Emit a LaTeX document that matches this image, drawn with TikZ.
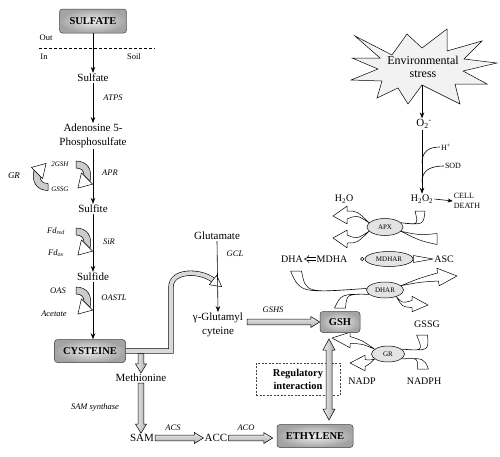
\documentclass[tikz,border=0pt]{standalone}
\usepackage{fontspec}
\setmainfont{Liberation Serif}
\usetikzlibrary{arrows.meta,shapes.geometric,calc}
\pgfdeclarelayer{back}
\pgfsetlayers{back,main}

% tapered band ending in an open arrow head
\newcommand\bandA[5]{\draw[band] (#1) .. controls ($(#2)+0.5*(#4)$) .. ($(#3)+(#4)$) -- ($(#3)+2.2*(#4)$) -- ($(#3)+(#5)$) -- ($(#3)-2.2*(#4)$) -- ($(#3)-(#4)$) .. controls ($(#2)-0.5*(#4)$) .. (#1) -- cycle;}
% tapered band with a flat end
\newcommand\bandF[4]{\draw[band] (#1) .. controls ($(#2)+0.5*(#4)$) .. ($(#3)+(#4)$) -- ($(#3)-(#4)$) .. controls ($(#2)-0.5*(#4)$) .. (#1) -- cycle;}
% thick grey arrows
\newcommand\harr[2]{\draw[garr] let \p1=#1, \p2=#2 in (\x1,\y1+2.8pt) -- (\x2-9pt,\y1+2.8pt) -- (\x2-9pt,\y1+5.5pt) -- (\x2,\y1) -- (\x2-9pt,\y1-5.5pt) -- (\x2-9pt,\y1-2.8pt) -- (\x1,\y1-2.8pt) -- cycle;}
\newcommand\varr[2]{\draw[gvarr] let \p1=#1, \p2=#2 in (\x1-2.8pt,\y1) -- (\x1-2.8pt,\y2+9pt) -- (\x1-5.5pt,\y2+9pt) -- (\x1,\y2) -- (\x1+5.5pt,\y2+9pt) -- (\x1+2.8pt,\y2+9pt) -- (\x1+2.8pt,\y1) -- cycle;}
\newcommand\dvarr[2]{\draw[gvarr] let \p1=#1, \p2=#2 in (\x1,\y1) -- (\x1+6pt,\y1-11pt) -- (\x1+3pt,\y1-11pt) -- (\x1+3pt,\y2+11pt) -- (\x1+6pt,\y2+11pt) -- (\x1,\y2) -- (\x1-6pt,\y2+11pt) -- (\x1-3pt,\y2+11pt) -- (\x1-3pt,\y1-11pt) -- (\x1-6pt,\y1-11pt) -- cycle;}
% grey cofactor crescent
\newcommand\cofac[2]{\begin{scope}[shift={#1}, rotate=#2]
\draw[line width=0.5pt, fill=gray!40, line join=round] (0,-3.5) .. controls (11,-3.5) and (17,5) .. (14,17) -- (8,11) .. controls (8,6) and (5,3.5) .. (0,3.5) -- cycle;
\draw[line width=0.5pt, fill=white, line join=round] (5.4,8.4) -- (16.6,19.6) -- (1.9,23.6) -- cycle;
\end{scope}}

\begin{document}
\begin{tikzpicture}[x=1pt,y=-1pt,
  txt/.style={inner sep=1pt, font=\fontsize{11}{13.5}\selectfont},
  stxt/.style={inner sep=1pt, font=\fontsize{10}{12}\selectfont},
  smtxt/.style={inner sep=1pt, font=\fontsize{8}{9}\selectfont},
  enz/.style={inner sep=1pt, font=\fontsize{8.5}{10}\selectfont\itshape},
  cof/.style={inner sep=1pt, font=\fontsize{7}{8}\selectfont\itshape},
  gbox/.style={draw=gray!50!black, line width=0.5pt, rounded corners=3pt, inner color=gray!12, outer color=gray!72, font=\fontsize{10.5}{12}\selectfont\bfseries, inner sep=0pt},
  enzell/.style={ellipse, draw, line width=0.5pt, fill=gray!22, inner sep=0pt, font=\fontsize{7}{8}\selectfont},
  arr/.style={-{Stealth[length=6pt,width=4.5pt]}, line width=0.6pt},
  band/.style={draw, fill=white, line width=0.5pt, line join=round},
  garr/.style={draw, line width=0.5pt, top color=gray!15, bottom color=gray!65},
  gvarr/.style={draw, line width=0.5pt, left color=gray!15, right color=gray!65},
]
\useasboundingbox (0,0) rectangle (500,456);

% ---------------- left column: sulfate assimilation
\node[gbox, minimum width=67pt, minimum height=24pt] (sulfbox) at (93,21) {SULFATE};
\node[smtxt, font=\fontsize{8.5}{10}\selectfont] (out) at (46,38) {Out};
\node[smtxt, font=\fontsize{8.5}{10}\selectfont] (in) at (44,57) {In};
\node[smtxt, font=\fontsize{8.5}{10}\selectfont] (soil) at (134,57) {Soil};
\coordinate (dl1) at (39,48);
\coordinate (dl2) at (155,48);
\draw[line width=0.5pt, dash pattern=on 3pt off 2pt] (dl1) -- (dl2);

\node[txt] (sulf) at (93,78) {Sulfate};
\node[txt, align=center] (aps) at (93,136) {Adenosine 5-\\Phosphosulfate};
\node[txt] (sulfite) at (93,209) {Sulfite};
\node[txt] (sulfide) at (93,277) {Sulfide};
\node[gbox, minimum width=71pt, minimum height=23pt] (cys) at (90,351) {CYSTEINE};

\draw[arr] (sulfbox.south) -- (sulf.north);
\draw[arr] (sulf.south) -- (aps.north);
\draw[arr] (aps.south) -- (sulfite.north);
\draw[arr] (sulfite.south) -- (sulfide.north);
\draw[arr] (sulfide.south) -- (sulfide.south |- cys.north);

\node[enz] (atps) at (113,98) {ATPS};
\node[enz] (apr) at (110,173) {APR};
\node[enz] (sir) at (109,242) {SiR};
\node[enz] (oastl) at (114,298) {OASTL};

\cofac{(76,164.5)}{0}
\cofac{(76,231.5)}{0}
\cofac{(76,290.5)}{0}
\cofac{(48,187)}{180}

\node[enz, font=\fontsize{9}{10}\selectfont\itshape] (grl) at (14,176) {GR};
\node[cof] (gsh2) at (60,164) {2GSH};
\node[cof] (gssgl) at (60,189) {GSSG};
\node[enz] (fdred) at (56,231) {Fd\textsubscript{red}};
\node[enz] (fdox) at (56,253) {Fd\textsubscript{ox}};
\node[enz] (oas) at (58,291) {OAS};
\node[enz] (acet) at (54,314) {Acetate};

% ---------------- methionine / ethylene branch
\node[txt] (meth) at (141,378) {Methionine};
\node[txt] (sam) at (142,438) {SAM};
\node[txt] (acc) at (216,438) {ACC};
\node[gbox, minimum width=76pt, minimum height=23pt] (eth) at (315,436) {ETHYLENE};
\node[enz] (samsyn) at (95,407) {SAM synthase};
\node[enz] (acs) at (173,428) {ACS};
\node[enz] (aco) at (246,428) {ACO};

\coordinate (pc1) at (171,351);
\coordinate (pc2) at (171,287);
\coordinate (pc3) at (213,280);
\draw[double=gray!30, double distance=4pt, line width=0.6pt] (cys.east) -- (pc1) -- (pc2) .. controls (171,270) and (200,270) .. (pc3);
\draw[line width=0.5pt, fill=white, line join=round] (209.3,284.7) -- (221.7,286.7) -- (216.7,275.3) -- cycle;

\coordinate (pj) at (141,353.6);
\varr{(pj)}{(meth.north)}
\varr{(meth.south)}{(meth.south |- sam.north)}
\harr{(sam.east)}{(acc.west)}
\harr{(acc.east)}{($(eth.west)+(-4,0)$)}

% ---------------- glutathione synthesis
\node[txt] (glu) at (217,236) {Glutamate};
\node[txt, align=center] (gglu) at (218,325) {γ-Glutamyl\\cyteine};
\node[enz] (gcl) at (235,254) {GCL};
\node[enz] (gshs) at (273,310) {GSHS};
\draw[arr] (glu.south) -- (gglu.north);
\node[gbox, minimum width=40pt, minimum height=21pt] (gsh) at (340,322) {GSH};
\harr{($(gglu.east |- gsh.west)+(3,0)$)}{(gsh.west)}

\node[draw=gray!50!black, line width=0.4pt, dash pattern=on 2pt off 1.5pt, minimum width=84pt, minimum height=32pt, align=center, font=\fontsize{10.5}{13}\selectfont\bfseries] (reg) at (298,379) {Regulatory\\interaction};
\coordinate (dt) at (329,339);
\coordinate (db) at (329,420);
\dvarr{(dt)}{(db)}

% ---------------- environmental stress / ROS
\draw[line width=0.5pt, fill=gray!10, line join=miter] (355,36) -- (392,55) -- (407,34) -- (422,48) -- (447,29) -- (447,51) -- (482,41) -- (464,59) -- (497,63) -- (463,71) -- (487,84) -- (455,84) -- (460,104) -- (422,85) -- (408,104) -- (398,88) -- (377,98) -- (382,81) -- (351,80) -- (378,69) -- (352,58) -- (380,58) -- cycle;
\node[align=center, inner sep=1pt, font=\fontsize{12}{12.5}\selectfont] (stress) at (423,67) {Environmental\\stress};
\coordinate (starbot) at (422,85);
\node[txt] (o2) at (424,124) {O\textsubscript{2}\textsuperscript{-}};
\draw[arr] (starbot) -- (starbot |- o2.north);
\node[stxt] (h2o) at (344,199) {H\textsubscript{2}O};
\node[stxt] (h2o2) at (422,199) {H\textsubscript{2}O\textsubscript{2}};
\node[smtxt] (hplus) at (446,147) {H\textsuperscript{+}};
\node[smtxt] (sod) at (453,166) {SOD};
\node[smtxt, align=left, font=\fontsize{8}{9.5}\selectfont] (cd) at (467,201) {CELL\\DEATH};
\draw[arr] (starbot |- o2.south) -- (h2o2.north);
\coordinate (b1) at (422,163);
\coordinate (b2) at (422,182);
\draw[line width=0.6pt] (b1) .. controls (422,152) and (428,147) .. (hplus.west);
\draw[line width=0.6pt] (b2) .. controls (422,172) and (428,166) .. (sod.west);
\draw[-{Stealth[length=5pt,width=4pt]}, line width=0.6pt] (h2o2.east) -- (cd.west);

\node[enzell, minimum width=36pt, minimum height=17pt] (apx) at (385,227) {APX};
\node[enzell, minimum width=48pt, minimum height=15pt] (mdhar) at (389,259) {MDHAR};
\node[enzell, minimum width=37pt, minimum height=16pt] (dhar) at (385,290) {DHAR};
\node[enzell, minimum width=33pt, minimum height=16pt] (gr) at (388,354) {GR};

\node[stxt] (dha) at (292,259) {DHA};
\node[stxt] (mdha) at (332,259) {MDHA};
\node[stxt] (asc) at (444,259) {ASC};
\node[stxt] (gssg) at (427,324) {GSSG};
\node[stxt] (nadp) at (362,381) {NADP};
\node[stxt] (nadph) at (424,381) {NADPH};

\draw[double, double distance=2.2pt, line width=0.5pt, -{Implies}] (mdha.west) -- (dha.east);
\draw[line width=0.5pt, fill=white] ($(mdhar.west)+(-2.5,0)$) circle[radius=1.8pt];
\draw[band] ($(mdhar.east)+(0,-3.5)$) -- (asc.west) -- ($(mdhar.east)+(0,3.5)$) -- cycle;

\begin{pgfonlayer}{back}
% APX
\bandA{apx.165}{357,213}{347,215}{0,4}{-14,1}
\bandA{apx.195}{357,241}{347,239}{0,4}{-14,-1}
\bandF{apx.15}{421,225}{420,211}{5,0}
\bandF{apx.345}{420,238}{437,239}{0,5.5}
% DHAR
\bandF{dhar.175}{303,293}{296,271}{5.5,0}
\bandA{dhar.15}{420,280}{438,277}{0.5,4}{19,-1}
\bandF{dhar.195}{344,294}{340,308}{5.5,0}
\bandA{dhar.330}{402,305}{412,304}{0,3.5}{16,1}
% GR
\bandF{gr.20}{426,351}{422,335}{5.5,0}
\bandA{gr.160}{362,342}{350,340}{0,3.5}{-18,-2}
\bandA{gr.200}{370,362}{365,363}{0,3.5}{-15,0}
\bandF{gr.340}{421,358}{423,369}{5.5,0}
\end{pgfonlayer}

\end{tikzpicture}
\end{document}
